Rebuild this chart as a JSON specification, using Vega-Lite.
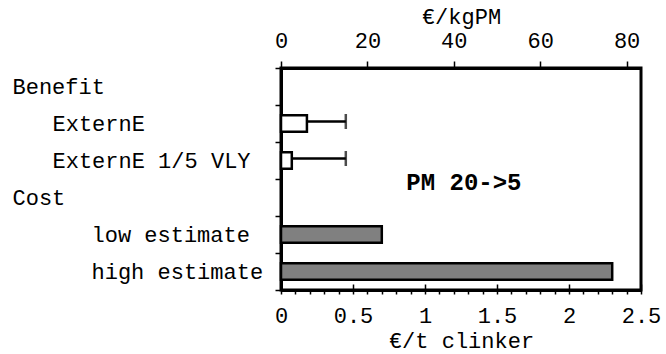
{
  "$schema": "https://vega.github.io/schema/vega-lite/v6.json",
  "width": 360,
  "height": 222,
  "autosize": {"type": "none"},
  "padding": {"left": 281, "top": 68, "right": 25, "bottom": 64},
  "background": "white",
  "config": {
    "font": "Liberation Mono",
    "view": {"stroke": "black", "strokeWidth": 3},
    "axis": {
      "labelFont": "Liberation Mono",
      "titleFont": "Liberation Mono",
      "labelFontSize": 22,
      "titleFontSize": 22,
      "titleFontWeight": "normal",
      "labelColor": "black",
      "titleColor": "black",
      "domainColor": "black",
      "tickColor": "black",
      "domainWidth": 3,
      "tickWidth": 1.5,
      "grid": false,
      "labelOverlap": false,
      "labelFlush": false,
      "labelLimit": 0
    }
  },
  "datasets": {
    "main": [
      {"cat": "Benefit", "grp": "Benefit"},
      {"cat": "ExternE", "grp": "Benefit", "value": 0.18, "hi": 0.45},
      {"cat": "ExternE 1/5 VLY", "grp": "Benefit", "value": 0.075, "hi": 0.45},
      {"cat": "Cost", "grp": "Cost"},
      {"cat": "low estimate", "grp": "Cost", "value": 0.7},
      {"cat": "high estimate", "grp": "Cost", "value": 2.3}
    ],
    "top": [{"kgPM": 0}, {"kgPM": 83.33}],
    "minor": [{"v": 0}, {"v": 2.5}]
  },
  "layer": [
    {
      "data": {"name": "main"},
      "encoding": {
        "y": {
          "field": "cat",
          "type": "nominal",
          "scale": {
            "domain": ["Benefit", "ExternE", "ExternE 1/5 VLY", "Cost", "low estimate", "high estimate"],
            "paddingInner": 0,
            "paddingOuter": 0
          },
          "axis": {
            "title": null,
            "tickSize": 6,
            "tickBand": "extent",
            "labelAlign": "left",
            "labelPadding": {
              "condition": [
                {"test": "datum.value == 'ExternE' || datum.value == 'ExternE 1/5 VLY'", "value": 223},
                {"test": "datum.value == 'low estimate' || datum.value == 'high estimate'", "value": 184}
              ],
              "value": 263
            }
          }
        }
      },
      "layer": [
        {
          "transform": [{"filter": "datum.hi != null"}],
          "mark": {"type": "rule", "color": "black", "strokeWidth": 2.5, "yOffset": -2},
          "encoding": {
            "x": {"field": "hi", "type": "quantitative", "scale": {"domain": [0, 2.5], "nice": false, "zero": false}},
            "x2": {"datum": 0}
          }
        },
        {
          "transform": [{"filter": "datum.value != null"}],
          "mark": {"type": "bar", "stroke": "black", "strokeWidth": 2.5, "height": {"band": 0.44}},
          "encoding": {
            "x": {
              "field": "value",
              "type": "quantitative",
              "scale": {"domain": [0, 2.5], "nice": false, "zero": false},
              "axis": {
                "orient": "bottom",
                "values": [0, 0.5, 1, 1.5, 2, 2.5],
                "format": "~g",
                "tickSize": -6,
                "labelBaseline": "alphabetic",
                "labelPadding": 38,
                "title": "€/t clinker",
                "titleBaseline": "alphabetic",
                "titleY": 57
              }
            },
            "fill": {
              "field": "grp",
              "type": "nominal",
              "scale": {"domain": ["Benefit", "Cost"], "range": ["white", "#808080"]},
              "legend": null
            }
          }
        },
        {
          "transform": [{"filter": "datum.hi != null"}],
          "mark": {"type": "tick", "color": "black", "thickness": 2.5, "size": 15, "yOffset": -2, "orient": "vertical"},
          "encoding": {
            "x": {"field": "hi", "type": "quantitative"}
          }
        },
        {
          "data": {"values": [{"note": "PM 20->5", "xv": 1.27, "cat": "Cost"}]},
          "mark": {"type": "text", "font": "Liberation Mono", "fontSize": 24, "fontWeight": "bold", "color": "black", "yOffset": -15, "align": "center", "baseline": "middle"},
          "encoding": {
            "x": {"field": "xv", "type": "quantitative"},
            "text": {"field": "note"}
          }
        }
      ]
    },
    {
      "data": {"name": "minor"},
      "mark": {"type": "point", "opacity": 0},
      "encoding": {
        "x": {
          "field": "v",
          "type": "quantitative",
          "scale": {"domain": [0, 2.5], "nice": false, "zero": false},
          "axis": {
            "orient": "bottom",
            "values": [0, 0.1, 0.2, 0.3, 0.4, 0.5, 0.6, 0.7, 0.8, 0.9, 1, 1.1, 1.2, 1.3, 1.4, 1.5, 1.6, 1.7, 1.8, 1.9, 2, 2.1, 2.2, 2.3, 2.4, 2.5],
            "labels": false,
            "domain": false,
            "tickSize": 4,
            "title": null
          }
        }
      }
    },
    {
      "data": {"name": "top"},
      "mark": {"type": "point", "opacity": 0},
      "encoding": {
        "x": {
          "field": "kgPM",
          "type": "quantitative",
          "scale": {"domain": [0, 83.33], "nice": false, "zero": false},
          "axis": {
            "orient": "top",
            "values": [0, 20, 40, 60, 80],
            "tickSize": 7,
            "labelBaseline": "alphabetic",
            "labelPadding": 14,
            "title": "€/kgPM",
            "titleBaseline": "alphabetic",
            "titleY": -45
          }
        }
      }
    }
  ],
  "resolve": {"scale": {"x": "independent"}}
}
